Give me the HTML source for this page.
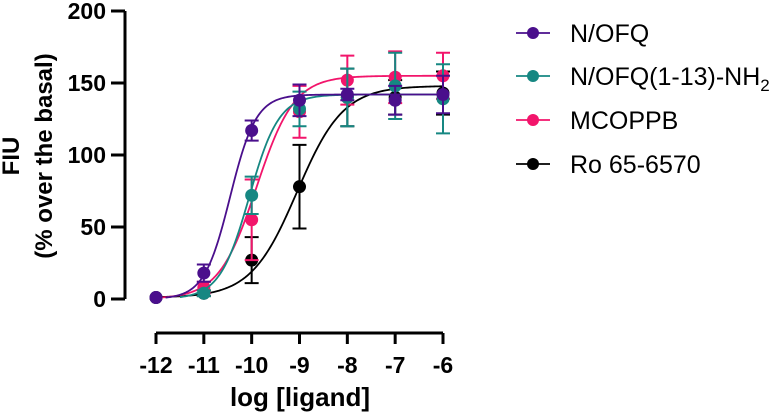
<!DOCTYPE html>
<html><head><meta charset="utf-8"><style>
html,body{margin:0;padding:0;background:#fff;}
svg{display:block;font-family:"Liberation Sans",Arial,sans-serif;}
</style></head><body>
<svg id="chart" width="784" height="416" viewBox="0 0 784 416" xmlns="http://www.w3.org/2000/svg"></svg>
<script>
const xTicks=[-12,-11,-10,-9,-8,-7,-6];
const yTicks=[0,50,100,150,200];
const seriesNames=["N/OFQ","N/OFQ(1-13)-NH2","MCOPPB","Ro 65-6570"];
const seriesColors=["#4a0f8c","#168782","#f2156b","#000000"];
const nofqY=[1,18,117,138,142,138,142];
const nofqErr=[0,6,7,11,4,10,13];
const tealY=[1,4,72,132,140,148,139];
const tealErr=[0,2,13,12,20,23,24];
const pinkY=[1,8,55,130,152,154,155];
const pinkErr=[0,4,28,18,17,18,16];
const blackY=[1,4,27,78,140,140,143];
const blackErr=[0,2,16,29,20,12,15];
const fitBottom=[0,0,0,1];
const fitTop=[142,142,155,148];
const fitEC50=[-10.45,-10.05,-9.9,-9.05];
const fitHill=[1.6,1.4,1.1,0.9];
const fitStart=[-11.8,-11.5,-12,-12];

const svg=document.getElementById('chart');
const NS="http://www.w3.org/2000/svg";
function X(v){return 156+(v+12)*(443-156)/6;}
function Y(v){return 299-v*(299-11)/200;}
function mk(tag,attrs,parent){const e=document.createElementNS(NS,tag);for(const k in attrs)e.setAttribute(k,attrs[k]);(parent||svg).appendChild(e);return e;}

const ya=mk('g',{});


mk('line',{x1:125,y1:Y(200),x2:125,y2:Y(0),stroke:'#000','stroke-width':3},ya);
yTicks.forEach(t=>{
  mk('line',{x1:111,y1:Y(t),x2:125,y2:Y(t),stroke:'#000','stroke-width':3},ya);
  const tx=mk('text',{x:106,y:Y(t)+8,'text-anchor':'end','font-size':23,'font-weight':'bold'},ya);
  
  
  tx.textContent=t;
});
const yt=mk('text',{transform:'translate(19,156) rotate(-90)','text-anchor':'middle','font-size':24,'font-weight':'bold'});


yt.textContent='FIU';
const yt2=mk('text',{transform:'translate(52,156) rotate(-90)','text-anchor':'middle','font-size':24,'font-weight':'bold'});


yt2.textContent='(% over the basal)';

const xa=mk('g',{});


mk('line',{x1:X(-12),y1:333,x2:X(-6),y2:333,stroke:'#000','stroke-width':3},xa);
xTicks.forEach(t=>{
  mk('line',{x1:X(t),y1:333,x2:X(t),y2:344,stroke:'#000','stroke-width':3},xa);
  const tx=mk('text',{x:X(t),y:373,'text-anchor':'middle','font-size':23,'font-weight':'bold'},xa);
  
  
  tx.textContent=t;
});
const xt=mk('text',{x:300,y:406,'text-anchor':'middle','font-size':26,'font-weight':'bold'});


xt.textContent='log [ligand]';

const allY=[nofqY,tealY,pinkY,blackY];
const allErr=[nofqErr,tealErr,pinkErr,blackErr];
const order=[3,2,1,0];
order.forEach(i=>{
  const g=mk('g',{});
  
  
  const c=seriesColors[i];
  let d='';
  for(let k=0;k<=200;k++){
    const lx=fitStart[i]+(-6-fitStart[i])*k/200;
    const v=fitBottom[i]+(fitTop[i]-fitBottom[i])/(1+Math.pow(10,(fitEC50[i]-lx)*fitHill[i]));
    d+=(k?'L':'M')+X(lx).toFixed(2)+','+Y(v).toFixed(2);
  }
  const p=mk('path',{d:d,fill:'none',stroke:c,'stroke-width':1.8},g);
  
  
  allY[i].forEach((v,j)=>{
    const e=allErr[i][j];
    if(e>0){
      const x=X(xTicks[j]);
      const eb=mk('path',{d:`M${x},${Y(v+e)}L${x},${Y(v-e)}M${x-7},${Y(v+e)}L${x+7},${Y(v+e)}M${x-7},${Y(v-e)}L${x+7},${Y(v-e)}`,stroke:c,'stroke-width':2,fill:'none'},g);
      
      
    }
    const pt=mk('circle',{cx:X(xTicks[j]),cy:Y(v),r:6.5,fill:c},g);
    
    
  });
});

const lg=mk('g',{});


const rows=[33,76,120,164];
seriesNames.forEach((n,i)=>{
  const e=mk('g',{},lg);
  
  
  mk('line',{x1:516,y1:rows[i],x2:550,y2:rows[i],stroke:seriesColors[i],'stroke-width':1.8},e);
  mk('circle',{cx:533,cy:rows[i],r:6,fill:seriesColors[i]},e);
  const t=mk('text',{x:570,y:rows[i]+9,'font-size':25},e);
  if(i===1){t.innerHTML='N/OFQ(1-13)-NH<tspan font-size="17" dy="6">2</tspan>';}
  else t.textContent=n;
});
</script>
</body></html>
